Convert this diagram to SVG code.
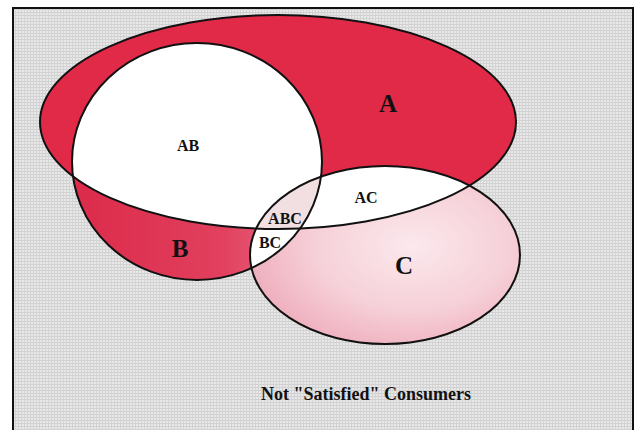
<svg xmlns="http://www.w3.org/2000/svg" width="640" height="430" viewBox="0 0 640 430">
<style>
.outline{fill:none;stroke:#111;stroke-width:2}
.lbl{font-family:"Liberation Serif","Times New Roman",serif;font-weight:bold;fill:#111;text-anchor:middle}
.small{font-size:16px}
.big{font-size:25px}
.white{fill:#fff}
</style>
<defs>
<pattern id="screen" width="3" height="3" patternUnits="userSpaceOnUse">
<rect width="3" height="3" fill="#e8e8e8"/>
<rect width="3" height="1" fill="#d0d0d0"/>
<rect width="1" height="3" fill="#d4d4d4"/>
</pattern>
<linearGradient id="gB" x1="0" y1="0" x2="1" y2="0">
<stop offset="0" stop-color="#dc2a4a"/>
<stop offset="0.6" stop-color="#e1405e"/>
<stop offset="1" stop-color="#ec768c"/>
</linearGradient>
<radialGradient id="gC" cx="0.6" cy="0.45" r="0.6">
<stop offset="0" stop-color="#fbe9ed"/>
<stop offset="0.6" stop-color="#f6d0d8"/>
<stop offset="1" stop-color="#efb1bf"/>
</radialGradient>
<clipPath id="clipA"><ellipse cx="278" cy="122" rx="238" ry="107"/></clipPath>
<clipPath id="clipB"><ellipse cx="197" cy="161.5" rx="125" ry="118.5"/></clipPath>
</defs>
<rect width="640" height="430" fill="#fff"/>
<rect x="13" y="8" width="620" height="430" fill="url(#screen)"/>
<rect x="13" y="8" width="620" height="430" fill="none" stroke="#111" stroke-width="2"/>
<g id="regionB"><ellipse cx="197" cy="161.5" rx="125" ry="118.5" fill="url(#gB)"/></g>
<g id="regionA"><ellipse cx="278" cy="122" rx="238" ry="107" fill="#e02a48"/></g>
<g id="regionC"><ellipse cx="385" cy="255" rx="135" ry="89" fill="url(#gC)"/></g>
<g id="regionAB" clip-path="url(#clipA)"><ellipse class="white" cx="197" cy="161.5" rx="125" ry="118.5"/></g>
<g id="regionAC" clip-path="url(#clipA)"><ellipse class="white" cx="385" cy="255" rx="135" ry="89"/></g>
<g id="regionBC" clip-path="url(#clipB)"><ellipse class="white" cx="385" cy="255" rx="135" ry="89"/></g>
<g id="regionABC" clip-path="url(#clipA)"><ellipse cx="385" cy="255" rx="135" ry="89" fill="#f1dfe2" clip-path="url(#clipB)"/></g>
<g id="outlines">
<ellipse class="outline" cx="278" cy="122" rx="238" ry="107"/>
<ellipse class="outline" cx="197" cy="161.5" rx="125" ry="118.5"/>
<ellipse class="outline" cx="385" cy="255" rx="135" ry="89"/>
</g>
<g id="labels">
<text class="lbl big" x="388" y="112">A</text>
<text class="lbl big" x="180" y="257">B</text>
<text class="lbl big" x="404" y="274">C</text>
<text class="lbl small" x="188" y="151">AB</text>
<text class="lbl small" x="366" y="203">AC</text>
<text class="lbl small" x="285" y="224">ABC</text>
<text class="lbl small" x="270" y="248">BC</text>
<text class="lbl" x="366" y="400" font-size="18">Not "Satisfied" Consumers</text>
</g>
</svg>
